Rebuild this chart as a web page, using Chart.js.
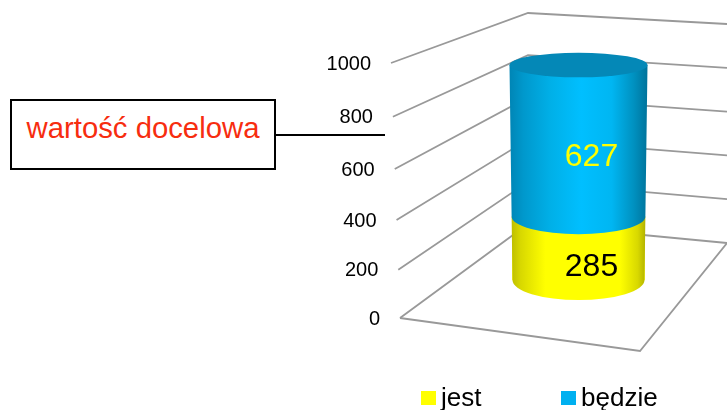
<!DOCTYPE html>
<html lang="pl">
<head>
<meta charset="utf-8">
<title>wartość docelowa</title>
<script src="https://cdn.jsdelivr.net/npm/chart.js@4/dist/chart.umd.min.js"></script>
<style>
  html, body { margin: 0; background: #fff; }
  #wrap { position: relative; width: 727px; height: 410px; overflow: hidden; font-family: "Liberation Sans", Arial, sans-serif; }
  canvas { position: absolute; left: 0; top: 0; }
  .target { position: absolute; left: 10px; top: 99px; width: 262px; height: 67px; border: 2px solid #000; background: #fff; color: #f72d0f; font-size: 29.3px; line-height: 53px; text-align: center; }
  .leader { position: absolute; left: 276px; top: 134px; width: 109px; height: 2px; background: #000; }
  .legend-item { position: absolute; top: 378px; font-size: 26px; line-height: 38px; color: #000; white-space: nowrap; }
  .legend-item i { position: absolute; left: 0; top: 13px; width: 15px; height: 14px; }
  .legend-item span { margin-left: 20px; }
</style>
</head>
<body>
<div id="wrap">
  <canvas id="chart" width="727" height="410"></canvas>
  <div class="target">wartość docelowa</div>
  <div class="leader"></div>
  <div id="legend"></div>
</div>
<script>
const categories = [''];
const seriesNames = ['jest', 'będzie'];
const jestValues = [285];
const bedzieValues = [627];
const tickValues = [0, 200, 400, 600, 800, 1000];

// narożniki "pudełka" 3D
const WALL = {
  left: { top: [391, 63], bottom: [400, 318] },
  back: { top: [528, 13], bottom: [528, 224] },
  right: { top: [727, 24], bottom: [727, 243] },
  front: [640, 351]
};

const wallLeftX = y => WALL.left.top[0] + (WALL.left.bottom[0] - WALL.left.top[0]) * (y - WALL.left.top[1]) / (WALL.left.bottom[1] - WALL.left.top[1]);

// skala liniowa z lekką perspektywą, etykiety idą wzdłuż lewej ściany
class WallScale extends Chart.LinearScale {
  static id = 'wall';
  static defaults = Chart.LinearScale.defaults;

  getPixelForValue(value) {
    const a = this.options.perspective || 1;
    const t = (value - this.min) / (this.max - this.min);
    return this.bottom - (this.bottom - this.top) * t / (a - (a - 1) * t);
  }

  _computeLabelItems(chartArea) {
    const items = super._computeLabelItems(chartArea);
    items.forEach(item => {
      const tr = item.options.translation;
      tr[0] += wallLeftX(tr[1]) - WALL.left.top[0];
      tr[1] += 1;
    });
    return items;
  }
}
Chart.register(WallScale);

const lerpPoint = (edge, f) => [
  edge.bottom[0] + (edge.top[0] - edge.bottom[0]) * f,
  edge.bottom[1] + (edge.top[1] - edge.bottom[1]) * f
];

function polyline(ctx, pts) {
  ctx.beginPath();
  pts.forEach((p, i) => i ? ctx.lineTo(p[0], p[1]) : ctx.moveTo(p[0], p[1]));
  ctx.stroke();
}

const wallPlugin = {
  id: 'wall',
  beforeDatasetsDraw(chart) {
    const { ctx, scales: { y } } = chart;
    ctx.save();
    ctx.strokeStyle = '#999999';
    ctx.lineWidth = 1.8;
    tickValues.forEach(v => {
      const f = v / y.max;
      const py = y.getPixelForValue(v);
      polyline(ctx, [[wallLeftX(py), py], lerpPoint(WALL.back, f), lerpPoint(WALL.right, f)]);
    });
    polyline(ctx, [WALL.left.bottom, WALL.front, WALL.right.bottom]);
    ctx.restore();
  }
};

const shades = [
  { stops: [[0, '#b8b800'], [0.08, '#d8d800'], [0.26, '#ffff00'], [0.8, '#ffff00'], [0.93, '#d8d800'], [1, '#a8a800']], text: '#000', textDy: 19 },
  { stops: [[0, '#0085b5'], [0.1, '#0098cc'], [0.3, '#00b0e8'], [0.52, '#00bfff'], [0.74, '#00b6f2'], [0.9, '#0091c0'], [1, '#00739b']], text: '#ffff00', textDy: 16.5 }
];

// promień elipsy i szerokość walca zależą od wysokości na obrazie
const halfWidth = y => 69 - 3 * (y - 65) / 215;
const radiusY = y => 12.3 + 7.7 * (y - 65) / 215;

function drawSegment(chart, index) {
  const { ctx } = chart;
  const bar = chart.getDatasetMeta(index).data[0];
  const shade = shades[index];
  const yt = bar.y, yb = bar.base;
  const grad = ctx.createLinearGradient(bar.x - 69, 0, bar.x + 69, 0);
  shade.stops.forEach(s => grad.addColorStop(s[0], s[1]));

  ctx.save();
  ctx.fillStyle = grad;
  ctx.beginPath();
  ctx.moveTo(bar.x - halfWidth(yt), yt);
  ctx.lineTo(bar.x + halfWidth(yt), yt);
  ctx.lineTo(bar.x + halfWidth(yb), yb);
  ctx.ellipse(bar.x, yb, halfWidth(yb), radiusY(yb), 0, 0, Math.PI);
  ctx.closePath();
  ctx.fill();

  if (index === chart.data.datasets.length - 1) {
    ctx.fillStyle = '#0488b7';
    ctx.beginPath();
    ctx.ellipse(bar.x, yt, halfWidth(yt), radiusY(yt), 0, 0, Math.PI * 2);
    ctx.fill();
  }
  ctx.restore();
}

const cylinderPlugin = {
  id: 'cylinder',
  afterDatasetsDraw(chart) {
    const { ctx } = chart;
    // od dołu do góry, górny segment przykrywa łuk dolnego
    chart.data.datasets.forEach((d, i) => drawSegment(chart, i));
    chart.data.datasets.forEach((d, i) => {
      const bar = chart.getDatasetMeta(i).data[0];
      ctx.save();
      ctx.fillStyle = shades[i].text;
      ctx.font = '32px "Liberation Sans", Arial, sans-serif';
      ctx.textAlign = 'center';
      ctx.textBaseline = 'middle';
      ctx.fillText(d.data[0], bar.x + 13, (bar.y + bar.base) / 2 + shades[i].textDy);
      ctx.restore();
    });
  }
};

const chart = new Chart(document.getElementById('chart'), {
  type: 'bar',
  data: {
    labels: categories,
    datasets: [
      { label: seriesNames[0], data: jestValues, backgroundColor: '#ffff00', yAxisID: 'y2', barThickness: 132 },
      { label: seriesNames[1], data: bedzieValues, backgroundColor: '#00b0f0', yAxisID: 'y2', barThickness: 132 }
    ]
  },
  options: {
    responsive: false,
    animation: false,
    events: [],
    layout: { padding: { left: 326, right: 0, top: 63, bottom: 92 } },
    plugins: { legend: { display: false }, tooltip: { enabled: false } },
    scales: {
      x: { display: false, stacked: true },
      y: {
        type: 'wall',
        perspective: 1.068,
        min: 0,
        max: 1000,
        afterBuildTicks: axis => { axis.ticks = tickValues.map(value => ({ value })); },
        afterFit: axis => { axis.width = 104; axis.paddingTop = 0; axis.paddingBottom = 0; },
        grid: { display: false, drawTicks: false },
        border: { display: false },
        ticks: {
          padding: 59,
          color: '#000',
          font: { family: '"Liberation Sans", Arial, sans-serif', size: 20 },
          callback: v => String(v)
        }
      },
      // osobna skala słupka: walec stoi wewnątrz pudełka, więc ma inną podstawę niż ściana
      y2: { type: 'wall', perspective: 1.1, display: false, stacked: true, min: -177, max: 920 }
    }
  },
  plugins: [wallPlugin, cylinderPlugin]
});

// legenda w HTML, pozycje jak na oryginale
const legendX = [421, 561];
document.getElementById('legend').innerHTML = chart.data.datasets.map((d, i) =>
  `<div class="legend-item" style="left:${legendX[i]}px"><i style="background:${d.backgroundColor}"></i><span>${d.label}</span></div>`).join('');
</script>
</body>
</html>
